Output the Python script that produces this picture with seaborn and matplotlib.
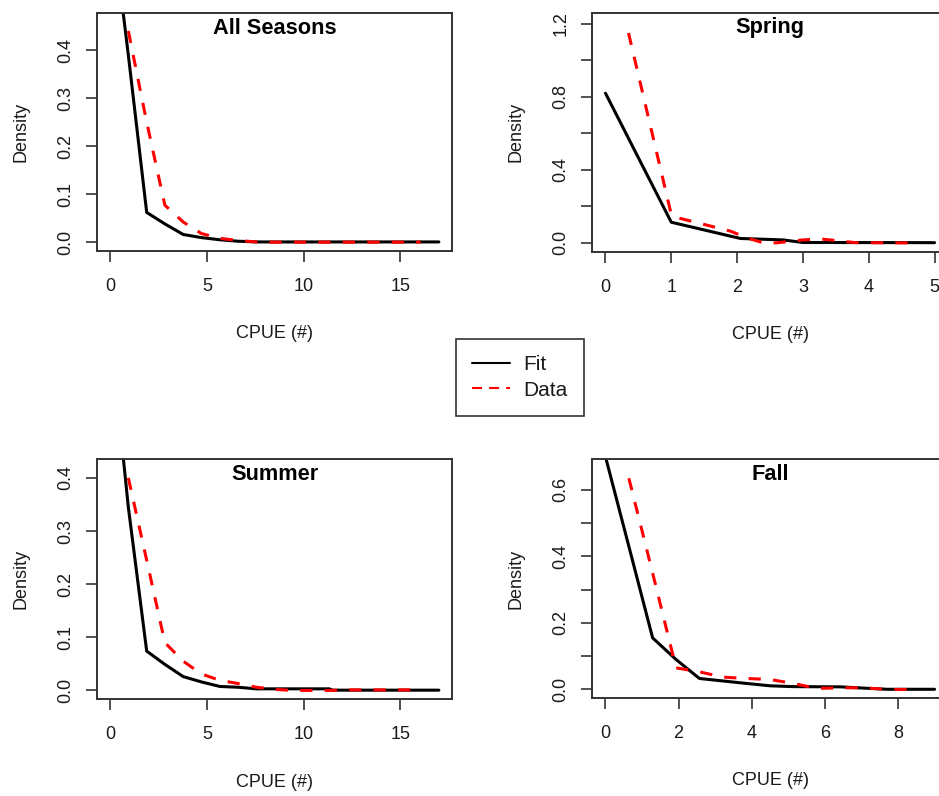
import matplotlib
matplotlib.use("Agg")
import matplotlib.pyplot as plt
from matplotlib.lines import Line2D
import seaborn as sns

# ── Data ─────────────────────────────────────────────────────────────────────

season_titles = ["All Seasons", "Spring", "Summer", "Fall"]

all_fit_x  = [0, 0.94, 1.89, 2.83, 3.78, 4.72, 5.67, 6.61, 7.56, 17]
all_fit_y  = [0.70, 0.39, 0.062, 0.038, 0.016, 0.0095, 0.005, 0.002, 0.0005, 0.0005]
all_data_x = [0.94, 1.89, 2.83, 3.78, 4.72, 5.67, 6.61, 7.56, 8.5, 16.06]
all_data_y = [0.44, 0.25, 0.077, 0.042, 0.018, 0.008, 0.0035, 0.0005, 0.0, 0.0]

spring_fit_x  = [0, 1.0, 2.05, 2.7, 3.0, 5.0]
spring_fit_y  = [0.82, 0.113, 0.024, 0.016, 0.002, 0.001]
spring_data_x = [0.35, 1.0, 1.1, 1.4, 1.9, 2.15, 2.4, 2.6, 3.0, 3.25, 3.6, 3.8, 4.6]
spring_data_y = [1.15, 0.155, 0.137, 0.11, 0.064, 0.027, 0.0, 0.0, 0.016, 0.022, 0.009, 0.001, 0.0]

summer_fit_x  = [0, 0.94, 1.89, 2.83, 3.78, 4.72, 5.67, 6.61, 7.56, 11.33, 11.5, 17]
summer_fit_y  = [0.68, 0.345, 0.074, 0.049, 0.026, 0.016, 0.0075, 0.006, 0.003, 0.003, 0.0005, 0.0005]
summer_data_x = [0.94, 1.89, 2.83, 3.78, 4.72, 5.67, 6.61, 7.56, 8.5, 9.44, 10.39, 11.33, 12.28, 16.06]
summer_data_y = [0.40, 0.245, 0.09, 0.055, 0.031, 0.019, 0.013, 0.006, 0.002, 0.0, 0.0, 0.0, 0.001, 0.001]

fall_fit_x  = [0, 0.64, 1.29, 1.93, 2.57, 3.86, 4.5, 5.14, 6.43, 7.07, 7.71, 9.0]
fall_fit_y  = [0.70, 0.43, 0.155, 0.09, 0.033, 0.018, 0.011, 0.0085, 0.0078, 0.004, 0.0005, 0.0005]
fall_data_x = [0.64, 1.29, 1.93, 2.57, 3.21, 3.86, 4.5, 5.14, 5.79, 6.43, 7.07, 7.71, 8.36]
fall_data_y = [0.635, 0.35, 0.065, 0.053, 0.037, 0.033, 0.030, 0.018, 0.003, 0.005, 0.005, 0.0, 0.0]

x_label = "CPUE (#)"
y_label = "Density"
legend_labels = ["Fit", "Data"]

# ── Style ────────────────────────────────────────────────────────────────────

sns.set_theme(style="ticks")
plt.rcParams["font.family"] = ["Liberation Sans", "DejaVu Sans"]

FIG_W, FIG_H = 939, 796
TEXT = "#1a1a1a"
EDGE = "#333333"
DASH = (0, (4, 4))

# panel layout in pixels: left, top, right, bottom (right column runs past the edge)
panels = [
    dict(title=season_titles[0], fx=all_fit_x, fy=all_fit_y, dx=all_data_x, dy=all_data_y,
         box=(97, 13, 452, 251), xlim=(-0.68, 17.68), ylim=(-0.0184, 0.4774),
         xticks=[0, 5, 10, 15], yticks=[0, 0.1, 0.2, 0.3, 0.4],
         ylabels=["0.0", "0.1", "0.2", "0.3", "0.4"]),
    dict(title=season_titles[1], fx=spring_fit_x, fy=spring_fit_y, dx=spring_data_x, dy=spring_data_y,
         box=(592.3, 12.7, 947.7, 251.7), xlim=(-0.2, 5.2), ylim=(-0.0485, 1.261),
         xticks=[0, 1, 2, 3, 4, 5], yticks=[0, 0.2, 0.4, 0.6, 0.8, 1.0, 1.2],
         ylabels=["0.0", "", "0.4", "", "0.8", "", "1.2"]),
    dict(title=season_titles[2], fx=summer_fit_x, fy=summer_fit_y, dx=summer_data_x, dy=summer_data_y,
         box=(97, 459.3, 452, 699.3), xlim=(-0.68, 17.68), ylim=(-0.0167, 0.435),
         xticks=[0, 5, 10, 15], yticks=[0, 0.1, 0.2, 0.3, 0.4],
         ylabels=["0.0", "0.1", "0.2", "0.3", "0.4"]),
    dict(title=season_titles[3], fx=fall_fit_x, fy=fall_fit_y, dx=fall_data_x, dy=fall_data_y,
         box=(592.3, 459.3, 947.7, 698.3), xlim=(-0.36, 9.36), ylim=(-0.0266, 0.692),
         xticks=[0, 2, 4, 6, 8], yticks=[0, 0.1, 0.2, 0.3, 0.4, 0.5, 0.6],
         ylabels=["0.0", "", "0.2", "", "0.4", "", "0.6"]),
]


def draw_panel(fig, p):
    left, top, right, bottom = p["box"]
    ax = fig.add_axes([left / FIG_W, 1 - bottom / FIG_H,
                       (right - left) / FIG_W, (bottom - top) / FIG_H])

    sns.lineplot(x=p["fx"], y=p["fy"], ax=ax, color="black", lw=2.2, sort=False)
    sns.lineplot(x=p["dx"], y=p["dy"], ax=ax, color="red", lw=2.2, linestyle=DASH, sort=False)

    ax.set_xlim(*p["xlim"])
    ax.set_ylim(*p["ylim"])
    ax.set_xticks(p["xticks"])
    ax.set_xticklabels([str(t) for t in p["xticks"]])
    ax.set_yticks(p["yticks"])
    ax.set_yticklabels(p["ylabels"])

    for s in ax.spines.values():
        s.set_visible(True)
        s.set_color(EDGE)
        s.set_linewidth(1.4)

    ax.tick_params(direction="out", length=8, width=1.2, color=EDGE,
                   labelsize=13, labelcolor=TEXT)
    ax.tick_params(axis="x", pad=11.5)
    ax.tick_params(axis="y", pad=8.5, labelrotation=90)
    for lbl in ax.get_yticklabels():
        lbl.set_va("center")

    ax.set_xlabel(x_label, fontsize=13, color=TEXT)
    ax.set_ylabel(y_label, fontsize=13, color=TEXT)
    ax.xaxis.set_label_coords(0.5, -0.31)
    ax.yaxis.set_label_coords(-0.19, 0.5)

    h = bottom - top
    ax.set_title(p["title"], y=1 - 15 / h, pad=0, va="center",
                 fontsize=15.7, fontweight="bold", color="black")
    return ax


fig = plt.figure(figsize=(FIG_W / 100, FIG_H / 100), dpi=100)
fig.patch.set_facecolor("white")

for p in panels:
    draw_panel(fig, p)

handles = [Line2D([], [], color="black", lw=1.5),
           Line2D([], [], color="red", lw=1.5, linestyle=(0, (4.8, 3.4)))]
leg = fig.legend(handles, legend_labels, loc="center",
                 bbox_to_anchor=(520 / FIG_W, 1 - 377.5 / FIG_H),
                 fontsize=15, frameon=True, fancybox=False, shadow=False,
                 handlelength=1.8, handletextpad=0.65, borderpad=0.8,
                 labelspacing=0.3, framealpha=1)
leg.get_frame().set_edgecolor(EDGE)
leg.get_frame().set_linewidth(1.2)
for t in leg.get_texts():
    t.set_color(TEXT)

fig.savefig("out.png", dpi=100)
